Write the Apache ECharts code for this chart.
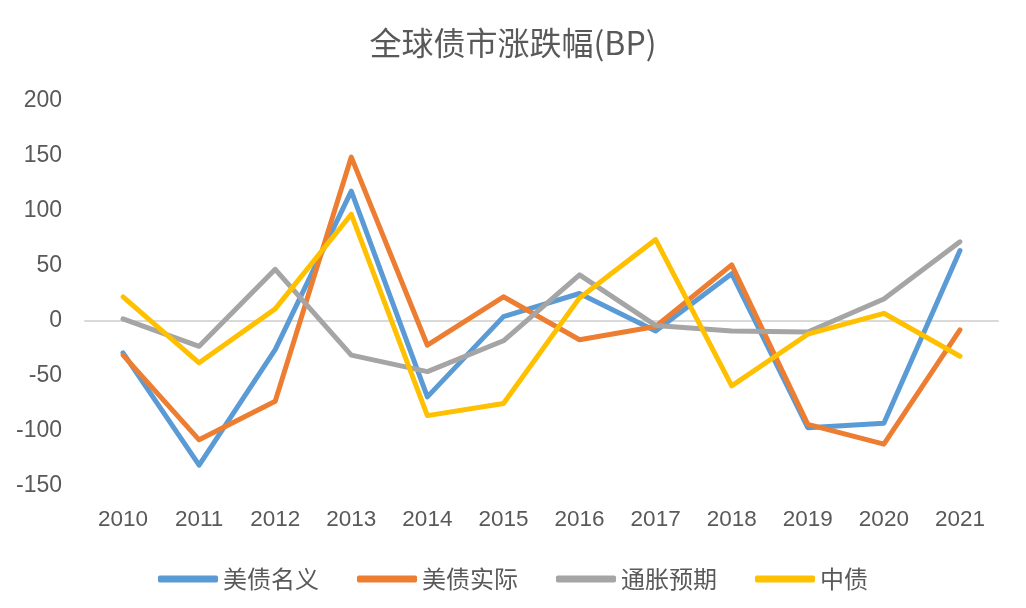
<!DOCTYPE html>
<html>
<head>
<meta charset="utf-8">
<script src="https://cdn.jsdelivr.net/npm/echarts@6/dist/echarts.min.js"></script>
<style>
  html, body { margin: 0; padding: 0; background: #fff; }
  #chart { width: 1026px; height: 608px; }
</style>
</head>
<body>
<div id="chart"></div>
<script>
const years = ['2010','2011','2012','2013','2014','2015','2016','2017','2018','2019','2020','2021']
const usNominal = [-29, -131, -26, 118, -69, 4, 25, -9, 43, -97, -93, 64]
const usReal = [-31, -108, -73, 149, -22, 22, -17, -5, 51, -94, -112, -8]
const inflationExp = [2, -23, 47, -31, -46, -18, 42, -4, -9, -10, 20, 72]
const chinaBond = [22, -38, 11, 97, -86, -75, 21, 74, -59, -12, 7, -32]

const font = '"Noto Sans CJK SC", "Liberation Sans", sans-serif'
const numFont = '"Liberation Sans", sans-serif'
const textColor = '#595959'

function line(name, data, color) {
  return {
    name: name,
    type: 'line',
    data: data,
    symbol: 'none',
    lineStyle: { width: 5, color: color, cap: 'round', join: 'round' },
    itemStyle: { color: color }
  }
}

var chart = echarts.init(document.getElementById('chart'))

let option = {
  animation: false,
  backgroundColor: '#fff',
  textStyle: { fontFamily: font },
  title: {
    text: '全球债市涨跌幅(BP)',
    left: 'center',
    top: 22,
    textStyle: { fontSize: 32, fontWeight: 'normal', color: textColor, fontFamily: font }
  },
  legend: {
    bottom: 12,
    left: 'center',
    icon: 'roundRect',
    itemWidth: 60,
    itemHeight: 7,
    itemGap: 38,
    textStyle: { fontSize: 24, color: textColor, fontFamily: font },
    data: ['美债名义', '美债实际', '通胀预期', '中债']
  },
  grid: { left: 85, right: 28, top: 101, bottom: 122 },
  xAxis: {
    type: 'category',
    data: years,
    boundaryGap: true,
    axisLine: { onZero: true, lineStyle: { color: '#d9d9d9', width: 2 } },
    axisTick: { show: false },
    axisLabel: {
      fontSize: 22.5, color: textColor, fontFamily: numFont,
      interval: 0, margin: 22
    }
  },
  yAxis: {
    type: 'value',
    min: -150,
    max: 200,
    interval: 50,
    splitLine: { show: false },
    axisLine: { show: false },
    axisTick: { show: false },
    axisLabel: { fontSize: 23, color: textColor, fontFamily: numFont, margin: 23 }
  },
  series: [
    line('美债名义', usNominal, '#5B9BD5'),
    line('美债实际', usReal, '#ED7D31'),
    line('通胀预期', inflationExp, '#A5A5A5'),
    line('中债', chinaBond, '#FFC000')
  ]
}
chart.setOption(option)
</script>
</body>
</html>
